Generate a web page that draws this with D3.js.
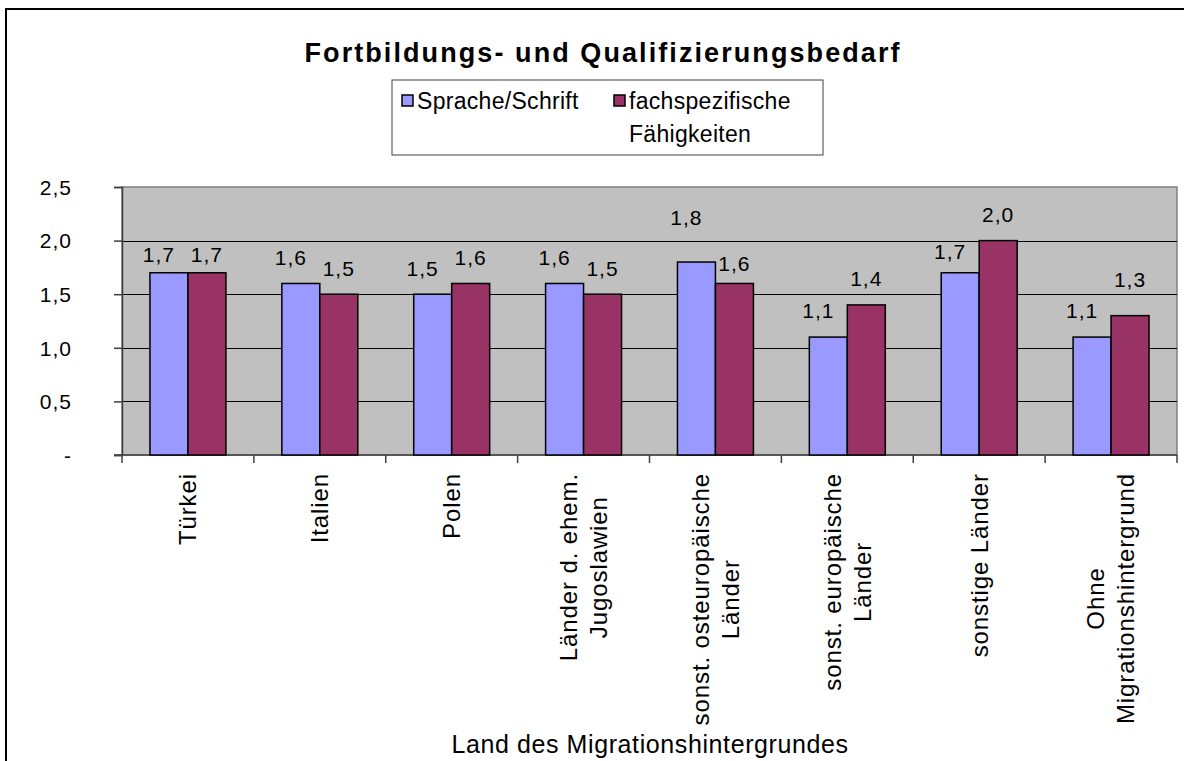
<!DOCTYPE html>
<html>
<head>
<meta charset="utf-8">
<script src="https://cdn.jsdelivr.net/npm/d3@7"></script>
<style>
  body { margin: 0; background: #fff; }
  svg { display: block; font-family: "Liberation Sans", Arial, sans-serif; }
</style>
</head>
<body>
<svg width="1184" height="761"></svg>
<script>
var categories = ["Türkei", "Italien", "Polen", "Länder d. ehem.\nJugoslawien",
  "sonst. osteuropäische\nLänder", "sonst. europäische\nLänder", "sonstige Länder",
  "Ohne\nMigrationshintergrund"];
var seriesNames = ["Sprache/Schrift", "fachspezifische\nFähigkeiten"];
var sprache = [1.7, 1.6, 1.5, 1.6, 1.8, 1.1, 1.7, 1.1];
var fach = [1.7, 1.5, 1.6, 1.5, 1.6, 1.4, 2.0, 1.3];
var yTicks = [0, 0.5, 1.0, 1.5, 2.0, 2.5];
var colors = ["#9999FF", "#993366"];

// label nudges (vertical) to follow the hand-placed labels of the original
var labelNudge = [[8, 8], [0, 0], [0, 0], [0, 0], [-18, 6], [0, 0], [5, 0], [0, -10]];

var svg = d3.select("svg"),
  width = +svg.attr("width"),
  height = +svg.attr("height");

var plot = {left: 122, right: 1177, top: 187, bottom: 455};

// outer frame
svg.append("rect")
  .attr("x", 6).attr("y", 9)
  .attr("width", width + 10).attr("height", height + 10)
  .attr("fill", "#fff").attr("stroke", "#000").attr("stroke-width", 2);

var x0 = d3.scaleBand()
  .domain(categories)
  .range([plot.left, plot.right])
  .paddingInner(0.424)
  .paddingOuter(0.212);

var x1 = d3.scaleBand()
  .domain([0, 1])
  .range([0, x0.bandwidth()]);

var y = d3.scaleLinear()
  .domain([0, 2.5])
  .range([plot.bottom, plot.top]);

var fmt = function(v) { return d3.format(".1f")(v).replace(".", ","); };

// plot background
svg.append("rect")
  .attr("x", plot.left).attr("y", plot.top)
  .attr("width", plot.right - plot.left).attr("height", plot.bottom - plot.top)
  .attr("fill", "#C0C0C0").attr("stroke", "#808080").attr("stroke-width", 1.5);

// gridlines
svg.append("g")
  .selectAll("line")
  .data(yTicks.filter(function(d) { return d > 0 && d < 2.5; }))
  .enter().append("line")
  .attr("x1", plot.left).attr("x2", plot.right)
  .attr("y1", function(d) { return Math.round(y(d)) + 0.5; })
  .attr("y2", function(d) { return Math.round(y(d)) + 0.5; })
  .attr("stroke", "#000").attr("stroke-width", 1);

// y axis
var yAxis = svg.append("g")
  .attr("transform", "translate(" + plot.left + ",0)")
  .call(d3.axisLeft(y).tickValues(yTicks).tickSize(8).tickPadding(0)
    .tickFormat(function(d) { return d === 0 ? "-" : fmt(d); }));
yAxis.select(".domain").attr("stroke", "#404040").attr("stroke-width", 1.5);
yAxis.selectAll(".tick line").attr("stroke", "#404040").attr("stroke-width", 1.5);
yAxis.selectAll(".tick text")
  .attr("x", 72 - plot.left)
  .attr("dy", "0.35em")
  .attr("font-size", 21)
  .attr("letter-spacing", 1)
  .attr("fill", "#000")
  .attr("font-family", "Liberation Sans, Arial, sans-serif");

// x axis line and ticks at category boundaries
var bounds = categories.map(function(c) { return x0(c) - x0.step() * 0.212; }).concat([plot.right]);
svg.append("line")
  .attr("x1", plot.left - 8).attr("x2", plot.right)
  .attr("y1", plot.bottom).attr("y2", plot.bottom)
  .attr("stroke", "#404040").attr("stroke-width", 1.5);
svg.append("g").selectAll("line")
  .data(bounds)
  .enter().append("line")
  .attr("x1", function(d) { return d; }).attr("x2", function(d) { return d; })
  .attr("y1", plot.bottom).attr("y2", plot.bottom + 8)
  .attr("stroke", "#404040").attr("stroke-width", 1.5);

// bars
var rows = categories.map(function(c, i) {
  return {cat: c, i: i, values: [sprache[i], fach[i]]};
});

var group = svg.append("g").selectAll("g")
  .data(rows)
  .enter().append("g")
  .attr("transform", function(d) { return "translate(" + x0(d.cat) + ",0)"; });

group.selectAll("rect")
  .data(function(d) { return d.values.map(function(v, s) { return {v: v, s: s}; }); })
  .enter().append("rect")
  .attr("x", function(d) { return x1(d.s); })
  .attr("width", x1.bandwidth())
  .attr("y", function(d) { return y(d.v); })
  .attr("height", function(d) { return y(0) - y(d.v); })
  .attr("fill", function(d) { return colors[d.s]; })
  .attr("stroke", "#000").attr("stroke-width", 1.5);

// data labels
group.selectAll("text")
  .data(function(d) { return d.values.map(function(v, s) { return {v: v, s: s, i: d.i}; }); })
  .enter().append("text")
  .attr("x", function(d) { return x1(d.s) + x1.bandwidth() / 2 + (d.s === 0 ? -10 : 0); })
  .attr("y", function(d) { return y(d.v) - 26 + labelNudge[d.i][d.s]; })
  .attr("dy", "0.35em")
  .attr("text-anchor", "middle")
  .attr("font-size", 21)
  .attr("letter-spacing", 1)
  .text(function(d) { return fmt(d.v); });

// category labels, rotated
var lineH = 30, labelTop = plot.bottom + 18;
categories.forEach(function(c) {
  var lines = c.split("\n");
  var g = svg.append("g")
    .attr("transform", "translate(" + (x0(c) + x0.bandwidth() / 2) + "," + labelTop + ") rotate(-90)");
  var texts = g.selectAll("text")
    .data(lines)
    .enter().append("text")
    .attr("y", function(d, k) { return (k - (lines.length - 1) / 2) * lineH; })
    .attr("dy", "0.35em")
    .attr("text-anchor", "middle")
    .attr("font-size", 24)
    .attr("letter-spacing", 0.9)
    .text(function(d) { return d; });
  var maxLen = d3.max(texts.nodes(), function(n) { return n.getComputedTextLength(); });
  texts.attr("x", -maxLen / 2);
});

// axis title
svg.append("text")
  .attr("x", 650).attr("y", 753)
  .attr("text-anchor", "middle")
  .attr("font-size", 25)
  .attr("letter-spacing", 0.6)
  .text("Land des Migrationshintergrundes");

// chart title
svg.append("text")
  .attr("x", 602).attr("y", 62)
  .attr("text-anchor", "middle")
  .attr("font-size", 27)
  .attr("font-weight", "bold")
  .attr("textLength", 595)
  .attr("lengthAdjust", "spacing")
  .text("Fortbildungs- und Qualifizierungsbedarf");

// legend
var legend = svg.append("g");
legend.append("rect")
  .attr("x", 392).attr("y", 80).attr("width", 431).attr("height", 75)
  .attr("fill", "#fff").attr("stroke", "#404040").attr("stroke-width", 1);

var legendX = [402, 614];
seriesNames.forEach(function(name, s) {
  legend.append("rect")
    .attr("x", legendX[s]).attr("y", 95).attr("width", 11).attr("height", 11)
    .attr("fill", colors[s]).attr("stroke", "#000").attr("stroke-width", 1.5);
  legend.append("text")
    .attr("x", legendX[s] + 15).attr("y", 109)
    .attr("font-size", 23)
    .attr("letter-spacing", 0.3)
    .selectAll("tspan")
    .data(name.split("\n"))
    .enter().append("tspan")
    .attr("x", legendX[s] + 15)
    .attr("dy", function(d, k) { return k ? 33 : 0; })
    .text(function(d) { return d; });
});
</script>
</body>
</html>
